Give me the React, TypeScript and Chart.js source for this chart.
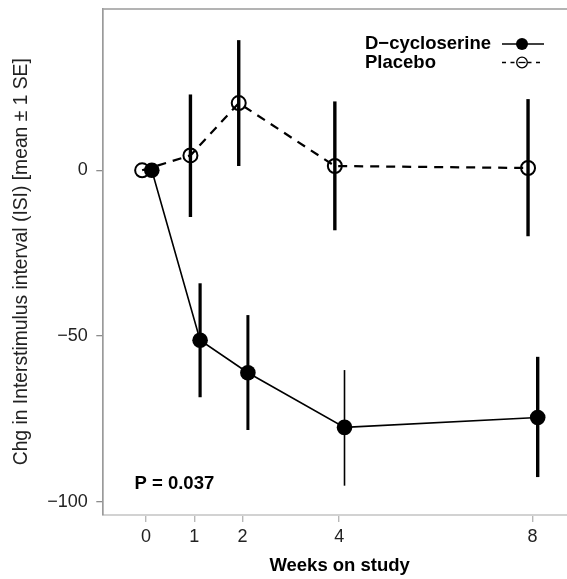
import React, { useEffect, useRef } from 'react';
import { Chart, registerables } from 'chart.js';

Chart.register(...registerables);

// ---- data ----
const weekTicks = [0, 1, 2, 4, 8];
const yTickValues = [-100, -50, 0];

const seriesNames = ['D\u2212cycloserine', 'Placebo'];

// D-cycloserine (slightly jittered right of each week)
const dcsX = [0.12, 1.12, 2.11, 4.11, 8.11];
const dcsMean = [0, -51.3, -61.1, -77.6, -74.6];
const dcsLow: (number | null)[] = [null, -68.5, -78.4, -95.2, -92.6];
const dcsHigh: (number | null)[] = [null, -34.1, -43.7, -60.3, -56.3];

// Placebo (slightly jittered left of each week)
const placeboX = [-0.08, 0.92, 1.92, 3.91, 7.91];
const placeboMean = [0, 4.5, 20.3, 1.3, 0.7];
const placeboLow: (number | null)[] = [null, -14.1, 1.3, -18.1, -19.9];
const placeboHigh: (number | null)[] = [null, 22.9, 39.3, 20.8, 21.5];

const pValueText = 'P = 0.037';
const xTitle = 'Weeks on study';
const yTitle = 'Chg in Interstimulus interval (ISI) [mean \u00b1 1 SE]';

// ---- styles ----
const FONT = '"Liberation Sans", Arial, sans-serif';
const dcsBarWidths = [3, 3.2, 3, 1.6, 3.4];
const placeboBarWidths = [3.4, 3.4, 3.4, 3.4, 3.4];

const overlayPlugin = {
  id: 'overlay',
  beforeDatasetsDraw(chart: any) {
    const { ctx, scales } = chart;
    const xs = scales.x;
    const ys = scales.y;
    const drawBars = (
      xv: number[],
      lo: (number | null)[],
      hi: (number | null)[],
      widths: number[]
    ) => {
      for (let i = 0; i < xv.length; i++) {
        const l = lo[i];
        const h = hi[i];
        if (l === null || h === null) continue;
        const px = xs.getPixelForValue(xv[i]);
        ctx.save();
        ctx.strokeStyle = '#000';
        ctx.lineWidth = widths[i];
        ctx.lineCap = 'butt';
        ctx.beginPath();
        ctx.moveTo(px, ys.getPixelForValue(h));
        ctx.lineTo(px, ys.getPixelForValue(l));
        ctx.stroke();
        ctx.restore();
      }
    };
    drawBars(placeboX, placeboLow, placeboHigh, placeboBarWidths);
    drawBars(dcsX, dcsLow, dcsHigh, dcsBarWidths);
  },
  afterDraw(chart: any) {
    const { ctx, chartArea } = chart;
    ctx.save();
    // top frame line
    ctx.strokeStyle = '#9a9a9a';
    ctx.lineWidth = 1.6;
    ctx.beginPath();
    ctx.moveTo(chartArea.left, chartArea.top);
    ctx.lineTo(chartArea.right, chartArea.top);
    ctx.stroke();

    // legend
    ctx.fillStyle = '#000';
    ctx.font = `bold 18.5px ${FONT}`;
    ctx.textAlign = 'left';
    ctx.textBaseline = 'middle';
    const lx = 365;
    const ly1 = 44;
    const ly2 = 62.5;
    ctx.fillText(seriesNames[0], lx, ly1);
    ctx.fillText(seriesNames[1], lx, ly2);

    const sx0 = 502;
    const sx1 = 544;
    const cx = 522;
    // solid line + filled dot
    ctx.strokeStyle = '#000';
    ctx.lineWidth = 1.4;
    ctx.setLineDash([]);
    ctx.beginPath();
    ctx.moveTo(sx0, ly1);
    ctx.lineTo(sx1, ly1);
    ctx.stroke();
    ctx.beginPath();
    ctx.arc(cx, ly1, 6, 0, Math.PI * 2);
    ctx.fill();
    // dashed line + open circle
    ctx.lineWidth = 1.3;
    ctx.setLineDash([4, 4.5]);
    ctx.beginPath();
    ctx.moveTo(sx0, ly2);
    ctx.lineTo(sx1, ly2);
    ctx.stroke();
    ctx.setLineDash([]);
    ctx.fillStyle = '#fff';
    ctx.beginPath();
    ctx.arc(cx, ly2, 5.3, 0, Math.PI * 2);
    ctx.fill();
    ctx.beginPath();
    ctx.moveTo(cx - 3.5, ly2);
    ctx.lineTo(cx + 3.5, ly2);
    ctx.stroke();
    ctx.beginPath();
    ctx.arc(cx, ly2, 5.3, 0, Math.PI * 2);
    ctx.stroke();

    // p value
    ctx.fillStyle = '#000';
    ctx.font = `bold 18.5px ${FONT}`;
    ctx.textBaseline = 'middle';
    ctx.fillText(pValueText, 134.5, 484);
    ctx.restore();
  },
};

export default function App() {
  const canvasRef = useRef<HTMLCanvasElement | null>(null);

  useEffect(() => {
    if (!canvasRef.current) return;
    const minus = (v: any) => String(v).replace('-', '\u2212');
    const zeroPad = (scale: any) => {
      scale.paddingTop = 0;
      scale.paddingBottom = 0;
      scale.paddingLeft = 0;
      scale.paddingRight = 0;
    };
    const chart = new Chart(canvasRef.current, {
      type: 'scatter',
      data: {
        datasets: [
          {
            label: seriesNames[0],
            data: dcsX.map((x, i) => ({ x, y: dcsMean[i] })),
            showLine: true,
            borderColor: '#000',
            borderWidth: 1.6,
            backgroundColor: '#000',
            pointBackgroundColor: '#000',
            pointBorderColor: '#000',
            pointBorderWidth: 0,
            pointRadius: 7.8,
            pointHoverRadius: 7.8,
          },
          {
            label: seriesNames[1],
            data: placeboX.map((x, i) => ({ x, y: placeboMean[i] })),
            showLine: true,
            borderColor: '#000',
            borderWidth: 2.2,
            borderDash: [9, 7],
            backgroundColor: 'rgba(0,0,0,0)',
            pointBackgroundColor: 'rgba(0,0,0,0)',
            pointBorderColor: '#000',
            pointBorderWidth: 2,
            pointRadius: 7,
            pointHoverRadius: 7,
          },
        ],
      },
      options: {
        animation: false,
        responsive: false,
        devicePixelRatio: 1,
        layout: { padding: { top: 8.5, left: 0, right: 0, bottom: 0 } },
        plugins: {
          legend: { display: false },
          tooltip: { enabled: false },
        },
        scales: {
          x: {
            type: 'linear',
            min: -0.884,
            max: 8.903,
            afterBuildTicks: (scale: any) => {
              scale.ticks = weekTicks.map((v) => ({ value: v }));
            },
            afterFit: (scale: any) => {
              scale.height = 64.5;
              zeroPad(scale);
            },
            grid: {
              drawOnChartArea: false,
              drawTicks: true,
              tickLength: 7.5,
              color: '#b8b8b8',
              lineWidth: 1.4,
            },
            border: { display: true, color: '#d2d2d2', width: 2 },
            ticks: {
              color: '#222',
              font: { family: FONT, size: 18 },
              padding: 4,
              maxRotation: 0,
              autoSkip: false,
              callback: minus,
            },
            title: {
              display: true,
              text: xTitle,
              color: '#000',
              font: { family: FONT, size: 18.5, weight: 'bold', lineHeight: 1 },
              padding: { top: 0, bottom: 3.5 },
            },
          },
          y: {
            type: 'linear',
            min: -103.9,
            max: 48.7,
            afterBuildTicks: (scale: any) => {
              scale.ticks = yTickValues.map((v) => ({ value: v }));
            },
            afterFit: (scale: any) => {
              scale.width = 103.3;
              zeroPad(scale);
            },
            grid: {
              drawOnChartArea: false,
              drawTicks: true,
              tickLength: 7,
              color: '#8c8c8c',
              lineWidth: 1.3,
            },
            border: { display: true, color: '#9a9a9a', width: 1.7 },
            ticks: {
              color: '#222',
              font: { family: FONT, size: 18 },
              padding: 8.5,
              autoSkip: false,
              callback: minus,
            },
            title: {
              display: true,
              text: yTitle,
              color: '#222',
              font: { family: FONT, size: 19.3, lineHeight: 1 },
              padding: { top: 12.5, bottom: 0 },
            },
          },
        },
      },
      plugins: [overlayPlugin],
    } as any);
    return () => chart.destroy();
  }, []);

  return (
    <div
      style={{
        position: 'absolute',
        left: 0,
        top: 0,
        width: 567,
        height: 579,
        overflow: 'hidden',
        background: '#fff',
      }}
    >
      <canvas ref={canvasRef} width={585} height={579} style={{ display: 'block' }} />
    </div>
  );
}
